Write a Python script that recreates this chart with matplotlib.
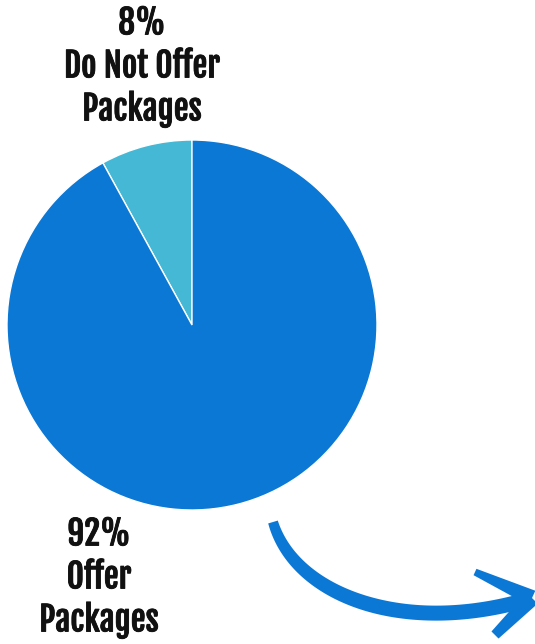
import numpy as np
import matplotlib
matplotlib.use("Agg")
import matplotlib.pyplot as plt
import matplotlib.patheffects as pe
from matplotlib.patches import Polygon

# Share of businesses offering packages
labels = ["Do Not Offer\nPackages", "Offer\nPackages"]
shares = [8, 92]
colors = ["#45B8D5", "#0B78D6"]

W, H = 535, 644
fig = plt.figure(figsize=(W / 100, H / 100), dpi=100)
ax = fig.add_axes([0, 0, 1, 1])

def Y(py):
    return H - py

ax.pie(shares, colors=colors, startangle=90, counterclock=True,
       center=(192, Y(325)), radius=185, frame=True,
       wedgeprops=dict(linewidth=1, edgecolor="white"))
ax.set_xlim(0, W)
ax.set_ylim(0, H)
ax.set_aspect("equal")
ax.axis("off")

family = ["Fjalla One", "Oswald", "DejaVu Sans"]
ink = "#111111"
txt = dict(ha="center", va="center", fontsize=24, family=family,
           color=ink, linespacing=1.2,
           path_effects=[pe.withStroke(linewidth=0.6, foreground=ink)])
ax.text(142, Y(66), f"{shares[0]}%\n{labels[0]}", **txt)
ax.text(99, Y(577), f"{shares[1]}%\n{labels[1]}", **txt)

# Curved brush-stroke arrow
t = np.linspace(0, 1, 200)
P = np.array([[273, 522], [294, 594], [400, 636], [526, 600]], float)
B = ((1 - t) ** 3)[:, None] * P[0] + (3 * (1 - t) ** 2 * t)[:, None] * P[1] \
    + (3 * (1 - t) * t ** 2)[:, None] * P[2] + (t ** 3)[:, None] * P[3]
d = np.gradient(B, axis=0)
n = np.stack([-d[:, 1], d[:, 0]], axis=1)
n /= np.linalg.norm(n, axis=1)[:, None]
w = 5.0 + 2.5 * np.sin(np.pi * np.clip(t * 1.6, 0, 1) / 2)
left = B + n * w[:, None]
right = B - n * w[:, None]
poly = np.vstack([left, right[::-1]])
poly[:, 1] = H - poly[:, 1]
ax.add_patch(Polygon(poly, closed=True, facecolor="#0B78D6", edgecolor="none"))

def stroke(p0, p1, w0, w1):
    p0 = np.array(p0, float); p1 = np.array(p1, float)
    dv = p1 - p0
    nv = np.array([-dv[1], dv[0]]) / np.hypot(*dv)
    pts = np.array([p0 + nv * w0, p1 + nv * w1, p1 - nv * w1, p0 - nv * w0])
    pts[:, 1] = H - pts[:, 1]
    ax.add_patch(Polygon(pts, closed=True, facecolor="#0B78D6", edgecolor="none"))

stroke((475, 572), (532, 598), 3.5, 8)
stroke((532, 598), (495, 635), 8, 5)

fig.savefig("out.png", dpi=100)
